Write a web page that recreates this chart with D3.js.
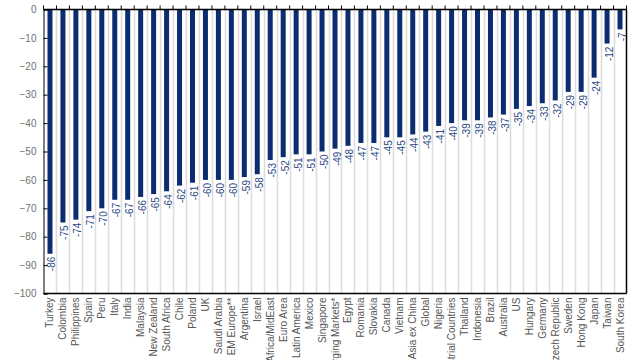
<!DOCTYPE html>
<html><head><meta charset="utf-8">
<script src="https://cdn.jsdelivr.net/npm/d3@7"></script>
<style>body{margin:0;background:#fff}svg{display:block;font-family:"Liberation Sans",Arial,sans-serif}</style>
</head><body><svg id="c" width="640" height="360"></svg>
<script>
const categories = ["Turkey","Colombia","Philippines","Spain","Peru","Italy","India","Malaysia","New Zealand","South Africa","Chile","Poland","UK","Saudi Arabia","EM Europe**","Argentina","Israel","Africa/MidEast","Euro Area","Latin America","Mexico","Singapore","Emerging Markets*","Egypt","Romania","Slovakia","Canada","Vietnam","Asia ex China","Global","Nigeria","Industrial Countries","Thailand","Indonesia","Brazil","Australia","US","Hungary","Germany","Czech Republic","Sweden","Hong Kong","Japan","Taiwan","South Korea"];
const values = [-86,-75,-74,-71,-70,-67,-67,-66,-65,-64,-62,-61,-60,-60,-60,-59,-58,-53,-52,-51,-51,-50,-49,-48,-47,-47,-45,-45,-44,-43,-41,-40,-39,-39,-38,-37,-35,-34,-33,-32,-29,-29,-24,-12,-7];
const yTicks = [0,-10,-20,-30,-40,-50,-60,-70,-80,-90,-100];

const svg = d3.select("#c");
const L = 43.5, R = 626.5, T = 9.5, B = 293.5;
const x = d3.scaleBand().domain(categories).range([L, R]).paddingInner(0).paddingOuter(0);
const y = d3.scaleLinear().domain([0,-100]).range([T, B]);
const bw = 5;

// gridlines at category boundaries
svg.append("g").selectAll("line").data(categories.slice(1)).join("line")
  .attr("x1", d => Math.round(x(d))+0.5).attr("x2", d => Math.round(x(d))+0.5)
  .attr("y1", T).attr("y2", B)
  .attr("stroke", "#dcdcdc").attr("stroke-width", 1.5);

// bars
svg.append("g").selectAll("rect").data(categories).join("rect")
  .attr("x", d => x(d) + x.bandwidth()/2 - bw/2)
  .attr("y", y(0))
  .attr("width", bw)
  .attr("height", (d,i) => y(values[i]) - y(0))
  .attr("fill", "#0b2c6f");

// value labels
svg.append("g").selectAll("text").data(categories).join("text")
  .attr("transform", (d,i) => `translate(${x(d)+x.bandwidth()/2+5.5},${y(values[i])+3}) rotate(-90)`)
  .attr("text-anchor", "end")
  .attr("font-size", 10)
  .attr("fill", "#2c4a86")
  .text((d,i) => values[i]);

// y axis
const ya = svg.append("g").attr("transform", `translate(${L},0)`)
  .call(d3.axisRight(y).tickValues(yTicks).tickSize(4).tickFormat(d3.format("d")));
ya.select(".domain").attr("stroke", "#000");
ya.selectAll(".tick line").attr("stroke", "#000");
ya.selectAll("text").attr("x", -7).attr("text-anchor", "end").attr("fill", "#707070").attr("font-size", 10).attr("font-family", "Liberation Sans, Arial, sans-serif");

// top axis with ticks at boundaries
const topAxis = svg.append("g");
topAxis.append("line").attr("x1", L).attr("x2", R).attr("y1", T).attr("y2", T).attr("stroke", "#000").attr("stroke-width", 1.5);
topAxis.selectAll("line.t").data(categories.concat(["__end"])).join("line").attr("class","t")
  .attr("x1", (d,i) => i < categories.length ? x(d) : R)
  .attr("x2", (d,i) => i < categories.length ? x(d) : R)
  .attr("y1", T-4).attr("y2", T).attr("stroke", "#000");

// bottom and right frame
svg.append("line").attr("x1", L).attr("x2", R).attr("y1", B).attr("y2", B).attr("stroke", "#000").attr("stroke-width", 1.5);
svg.append("line").attr("x1", R).attr("x2", R).attr("y1", T).attr("y2", B).attr("stroke", "#000").attr("stroke-width", 1.5);

// category labels
svg.append("g").selectAll("text").data(categories).join("text")
  .attr("transform", d => `translate(${x(d)+x.bandwidth()/2+3.5},${B+4}) rotate(-90)`)
  .attr("text-anchor", "end")
  .attr("font-size", 10)
  .attr("fill", "#555")
  .text(d => d);
</script></body></html>
